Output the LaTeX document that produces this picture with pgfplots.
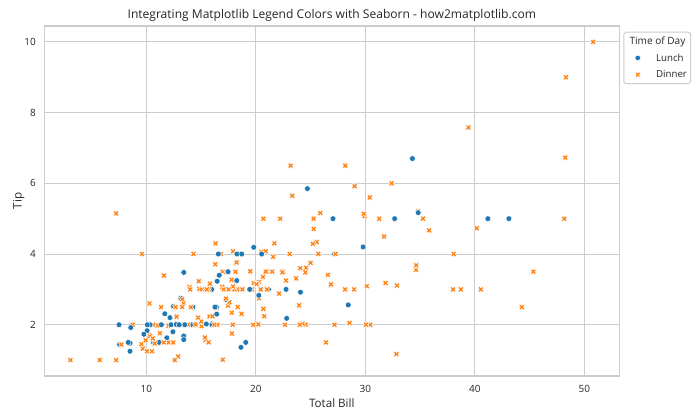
\documentclass[border=0pt]{standalone}
\usepackage{fontspec}
\setmainfont{Open Sans}
\usepackage{pgfplots}
\usepackage{pgfplotstable}
\pgfplotsset{compat=1.18}
\definecolor{c0}{HTML}{1F77B4}
\definecolor{c1}{HTML}{FF7F0E}
\definecolor{txt}{HTML}{262626}
\definecolor{gridc}{HTML}{CCCCCC}
\pgfdeclareplotmark{filledX}{%
  \pgfpathmoveto{\pgfpoint{-0.5\pgfplotmarksize}{-1.0\pgfplotmarksize}}%
  \pgfpathlineto{\pgfpoint{0pt}{-0.5\pgfplotmarksize}}%
  \pgfpathlineto{\pgfpoint{0.5\pgfplotmarksize}{-1.0\pgfplotmarksize}}%
  \pgfpathlineto{\pgfpoint{1.0\pgfplotmarksize}{-0.5\pgfplotmarksize}}%
  \pgfpathlineto{\pgfpoint{0.5\pgfplotmarksize}{0pt}}%
  \pgfpathlineto{\pgfpoint{1.0\pgfplotmarksize}{0.5\pgfplotmarksize}}%
  \pgfpathlineto{\pgfpoint{0.5\pgfplotmarksize}{1.0\pgfplotmarksize}}%
  \pgfpathlineto{\pgfpoint{0pt}{0.5\pgfplotmarksize}}%
  \pgfpathlineto{\pgfpoint{-0.5\pgfplotmarksize}{1.0\pgfplotmarksize}}%
  \pgfpathlineto{\pgfpoint{-1.0\pgfplotmarksize}{0.5\pgfplotmarksize}}%
  \pgfpathlineto{\pgfpoint{-0.5\pgfplotmarksize}{0pt}}%
  \pgfpathlineto{\pgfpoint{-1.0\pgfplotmarksize}{-0.5\pgfplotmarksize}}%
  \pgfpathclose
  \pgfusepathqfillstroke
}
\pgfplotstableread{
x y t
16.99 1.01 D
10.34 1.66 D
21.01 3.5 D
23.68 3.31 D
24.59 3.61 D
25.29 4.71 D
8.77 2.0 D
26.88 3.12 D
15.04 1.96 D
14.78 3.23 D
10.27 1.71 D
35.26 5.0 D
15.42 1.57 D
18.43 3.0 D
14.83 3.02 D
21.58 3.92 D
10.33 1.67 D
16.29 3.71 D
16.97 3.5 D
20.65 3.35 D
17.92 4.08 D
20.29 2.75 D
15.77 2.23 D
39.42 7.58 D
19.82 3.18 D
17.81 2.34 D
13.37 2.0 D
12.69 2.0 D
21.7 4.3 D
19.65 3.0 D
9.55 1.45 D
18.35 2.5 D
15.06 3.0 D
20.69 2.45 D
17.78 3.27 D
24.06 3.6 D
16.31 2.0 D
16.93 3.07 D
18.69 2.31 D
31.27 5.0 D
16.04 2.24 D
17.46 2.54 D
13.94 3.06 D
9.68 1.32 D
30.4 5.6 D
18.29 3.0 D
22.23 5.0 D
32.4 6.0 D
28.55 2.05 D
18.04 3.0 D
12.54 2.5 D
10.29 2.6 D
34.81 5.2 D
9.94 1.56 D
25.56 4.34 D
19.49 3.51 D
38.01 3.0 D
26.41 1.5 D
11.24 1.76 D
48.27 6.73 D
20.29 3.21 D
13.81 2.0 D
11.02 1.98 D
18.29 3.76 D
17.59 2.64 D
20.08 3.15 D
16.45 2.47 D
3.07 1.0 D
20.23 2.01 D
15.01 2.09 D
12.02 1.97 D
17.07 3.0 D
26.86 3.14 D
25.28 5.0 D
14.73 2.2 D
10.51 1.25 D
17.92 3.08 D
27.2 4.0 L
22.76 3.0 L
17.29 2.71 L
19.44 3.0 L
16.66 3.4 L
10.07 1.83 L
32.68 5.0 L
15.98 2.03 L
34.83 5.17 L
13.03 2.0 L
18.28 4.0 L
24.71 5.85 L
21.16 3.0 L
28.97 3.0 D
22.49 3.5 D
5.75 1.0 D
16.32 4.3 D
22.75 3.25 D
40.17 4.73 D
27.28 4.0 D
12.03 1.5 D
21.01 3.0 D
12.46 1.5 D
11.35 2.5 D
15.38 3.0 D
44.3 2.5 D
22.42 3.48 D
20.92 4.08 D
15.36 1.64 D
20.49 4.06 D
25.21 4.29 D
18.24 3.76 D
14.31 4.0 D
14.0 3.0 D
7.25 1.0 D
38.07 4.0 D
23.95 2.55 D
25.71 4.0 D
17.31 3.5 D
29.93 5.07 D
10.65 1.5 L
12.43 1.8 L
24.08 2.92 L
11.69 2.31 L
13.42 1.68 L
14.26 2.5 L
15.95 2.0 L
12.48 2.52 L
29.8 4.2 L
8.52 1.48 L
14.52 2.0 L
11.38 2.0 L
22.82 2.18 L
19.08 1.5 L
20.27 2.83 L
11.17 1.5 L
12.26 2.0 L
18.26 3.25 L
8.51 1.25 L
10.33 2.0 L
14.15 2.0 L
16.0 2.0 L
13.16 2.75 L
17.47 3.5 L
34.3 6.7 L
41.19 5.0 L
27.05 5.0 L
16.43 2.3 L
8.35 1.5 L
18.64 1.36 L
11.87 1.63 L
9.78 1.73 L
7.51 2.0 L
14.07 2.5 D
13.13 2.0 D
17.26 2.74 D
24.55 2.0 D
19.77 2.0 D
29.85 5.14 D
48.17 5.0 D
25.0 3.75 D
13.39 2.61 D
16.49 2.0 D
21.5 3.5 D
12.66 2.5 D
16.21 2.0 D
13.81 2.0 D
17.51 3.0 D
24.52 3.48 D
20.76 2.24 D
31.71 4.5 D
10.59 1.61 D
10.63 2.0 D
50.81 10.0 D
15.81 3.16 D
7.25 5.15 D
31.85 3.18 D
16.82 4.0 D
32.9 3.11 D
17.89 2.0 D
14.48 2.0 D
9.6 4.0 D
34.63 3.55 D
34.65 3.68 D
23.33 5.65 D
45.35 3.5 D
23.17 6.5 D
40.55 3.0 D
20.69 5.0 D
20.9 3.5 D
30.46 2.0 D
18.15 3.5 D
23.1 4.0 D
15.69 1.5 D
19.81 4.19 L
28.44 2.56 L
15.48 2.02 L
16.58 4.0 L
7.56 1.44 L
10.34 2.0 L
43.11 5.0 L
13.0 2.0 L
13.51 2.0 L
18.71 4.0 L
12.74 2.01 L
13.0 2.0 L
16.4 2.5 L
20.53 4.0 L
16.47 3.23 L
26.59 3.41 D
38.73 3.0 D
24.27 2.03 D
12.76 2.23 D
30.06 2.0 D
25.89 5.16 D
48.33 9.0 D
13.27 2.5 D
28.17 6.5 D
12.9 1.1 D
28.15 3.0 D
11.59 1.5 D
7.74 1.44 D
30.14 3.09 D
12.16 2.2 L
13.42 3.48 L
8.58 1.92 L
15.98 3.0 L
13.42 1.58 L
16.27 2.5 L
10.09 2.0 L
20.45 3.0 D
13.28 2.72 D
22.12 2.88 D
24.01 2.0 D
15.69 3.0 D
11.61 3.39 D
10.77 1.47 D
15.53 3.0 D
10.07 1.25 D
12.6 1.0 D
32.83 1.17 D
35.83 4.67 D
29.03 5.92 D
27.18 2.0 D
22.67 2.0 D
17.82 1.75 D
18.78 3.0 D
}\tips
\begin{document}
\begin{tikzpicture}
\path[use as bounding box] (-45.57bp,-45.26bp) rectangle (674.43bp,386.74bp);
\begin{axis}[
  at={(0,0)}, anchor=south west,
  scale only axis, width=591.43bp, height=360bp,
  xmin=0.6835, xmax=53.1965, ymin=0.55, ymax=10.45,
  xtick={10,20,30,40,50}, ytick={2,4,6,8,10},
  major tick length=0pt,
  grid=major,
  major grid style={draw=gridc, line width=1bp},
  axis line style={draw=gridc, line width=1.25bp},
  /pgf/number format/assume math mode=true,
  tick label style={font=\fontsize{10.3}{12}\selectfont, text=txt},
  xticklabel style={anchor=base, yshift=-16.5bp},
  yticklabel style={anchor=east, inner xsep=0pt, xshift=-8.5bp},
  xlabel={Total Bill}, ylabel={Tip},
  label style={font=\fontsize{12}{14}\selectfont, text=txt},
  xlabel style={at={([yshift=-31.9bp]axis description cs:0.5,0)}, anchor=base},
  ylabel style={at={([xshift=-23.2bp]axis description cs:0,0.5)}, anchor=base},
  title={Integrating Matplotlib Legend Colors with Seaborn - how2matplotlib.com},
  every axis title shift=0pt,
  title style={font=\fontsize{12.45}{14}\selectfont, text=txt,
    at={([yshift=8.2bp]axis description cs:0.5,1)}, anchor=base},
  legend style={at={(1,1)}, anchor=north west, xshift=4.1bp, yshift=-5.9bp,
    draw=gridc, line width=1bp, rounded corners=2bp,
    font=\fontsize{10}{12}\selectfont, text=txt,
    inner xsep=3.7bp, inner ysep=0.65bp,
    nodes={inner sep=0pt, text height=12bp, text depth=5.2bp},
    row sep=0pt, column sep=0pt},
  legend cell align=left,
  legend image code/.code={%
    \path[draw=none, fill=none] (0bp,0bp) -- (29.6bp,0bp);
    \draw[#1] plot coordinates {(10.7bp,0bp)};},
]
\addlegendimage{empty legend}
\addlegendentry{\hspace{-27.4bp}\fontsize{10.4}{12}\selectfont Time of Day}
\addlegendimage{only marks, mark=*, mark size=2.8bp, mark options={fill=c0, draw=white, line width=0.45bp}}
\addlegendentry{Lunch}
\addlegendimage{only marks, mark=filledX, mark size=2.8bp, mark options={fill=c1, draw=white, line width=0.45bp}}
\addlegendentry{Dinner}
\addplot[forget plot, scatter, only marks, scatter src=explicit symbolic,
  mark size=3bp,
  scatter/classes={
    L={mark=*, fill=c0, draw=white, line width=0.48bp},
    D={mark=filledX, fill=c1, draw=white, line width=0.48bp}}]
  table[x=x, y=y, meta=t] {\tips};
\end{axis}
\end{tikzpicture}
\end{document}
